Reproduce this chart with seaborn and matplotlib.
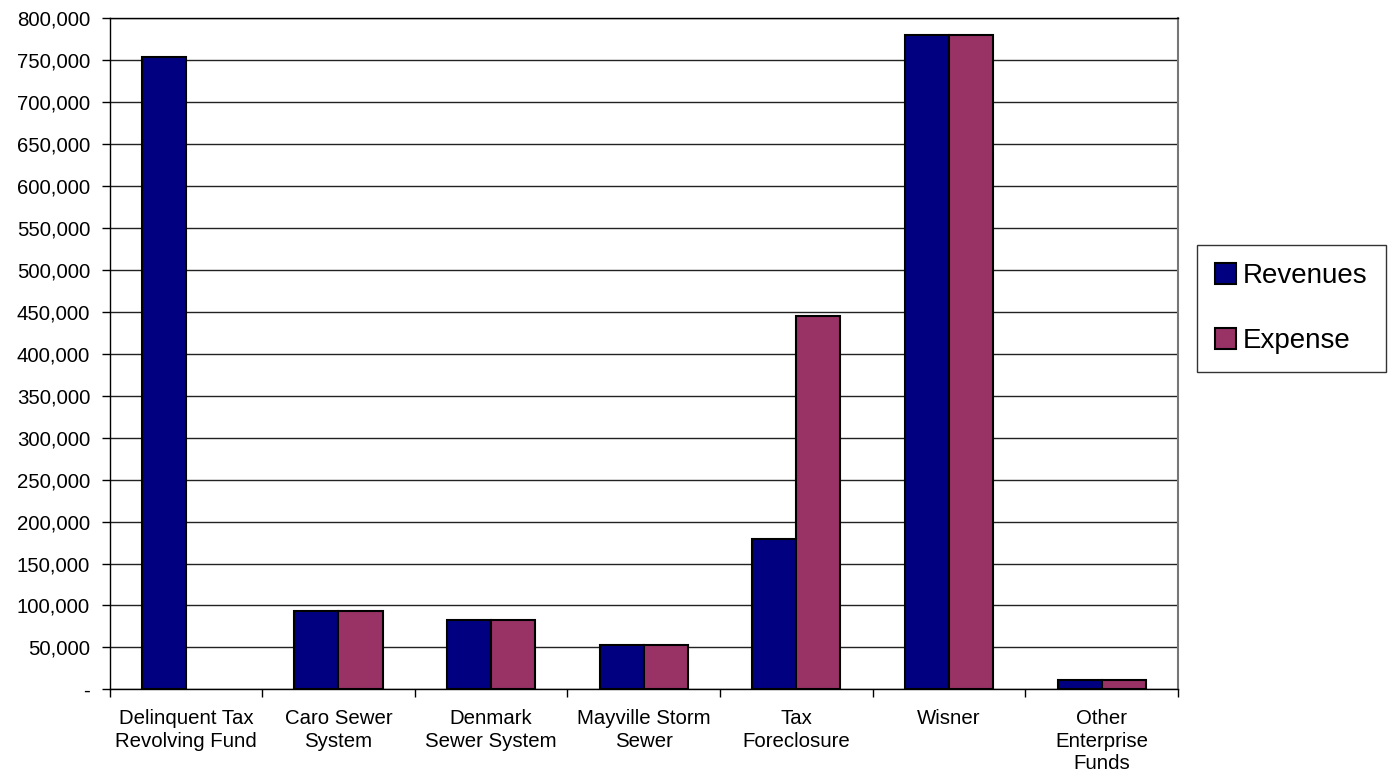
import matplotlib
matplotlib.use("Agg")
import matplotlib.pyplot as plt
from matplotlib.patches import Patch
from matplotlib.ticker import FuncFormatter, MultipleLocator, FixedLocator
import seaborn as sns
import pandas as pd

# Fund categories and reported amounts
funds = [
    "Delinquent Tax\nRevolving Fund",
    "Caro Sewer\nSystem",
    "Denmark\nSewer System",
    "Mayville Storm\nSewer",
    "Tax\nForeclosure",
    "Wisner",
    "Other\nEnterprise\nFunds",
]
revenues = [754000, 93500, 82500, 53000, 179500, 780000, 10800]
expense = [0, 93500, 82500, 53000, 445500, 780000, 10800]
series = ["Revenues", "Expense"]
colors = ["#000080", "#993366"]

df = pd.DataFrame({
    "Fund": funds * 2,
    "Amount": revenues + expense,
    "Series": [series[0]] * len(funds) + [series[1]] * len(funds),
})

sns.set_theme(style="white")
plt.rcParams["font.family"] = ["Liberation Sans", "DejaVu Sans"]
plt.rcParams["text.color"] = "black"

fig = plt.figure(figsize=(13.97, 7.76), dpi=100)
ax = fig.add_axes([0.0784, 0.1117, 0.7648, 0.8645])

sns.barplot(
    data=df, x="Fund", y="Amount", hue="Series", order=funds,
    hue_order=series, palette=colors, width=0.577, gap=0,
    edgecolor="black", linewidth=1.5, ax=ax, legend=False,
    saturation=1, errorbar=None,
)

# empty bars get no outline
for bar in ax.patches:
    if bar.get_height() == 0:
        bar.set_linewidth(0)

ax.set_xlim(-0.5, len(funds) - 0.5)
ax.set_ylim(0, 800000)
ax.yaxis.set_major_locator(MultipleLocator(50000))
ax.yaxis.set_major_formatter(
    FuncFormatter(lambda v, _: "-" if v == 0 else f"{int(v):,}")
)
ax.grid(axis="y", color="#222222", linewidth=1.0)
ax.set_axisbelow(True)

ax.set_xlabel("")
ax.set_ylabel("")

# category names centred, tick marks at group boundaries
ax.set_xticks(range(len(funds)))
ax.set_xticklabels(funds, fontsize=14.7, linespacing=1.25, color="black")
ax.tick_params(axis="x", which="major", length=0, pad=14)
ax.xaxis.set_minor_locator(FixedLocator([i - 0.5 for i in range(len(funds) + 1)]))
ax.tick_params(axis="x", which="minor", length=6, width=1, color="black",
               direction="out", bottom=True)
ax.tick_params(axis="y", which="major", length=6, width=1, color="black",
               direction="out", left=True, labelsize=14.7, labelcolor="black",
               pad=8)

for side in ["left", "bottom", "top"]:
    ax.spines[side].set_color("black")
    ax.spines[side].set_linewidth(1.0)
ax.spines["right"].set_color("#777777")
ax.spines["right"].set_linewidth(1.5)

handles = [Patch(facecolor=c, edgecolor="black", linewidth=1.5) for c in colors]
leg = fig.legend(
    handles, series, loc="upper left", bbox_to_anchor=(0.857, 0.684),
    fontsize=20, frameon=True, fancybox=False, edgecolor="black",
    handlelength=0.75, handleheight=0.75, handletextpad=0.25,
    labelspacing=1.4, borderpad=0.65, borderaxespad=0,
)
leg.get_frame().set_linewidth(1.0)
for t in leg.get_texts():
    t.set_color("black")

fig.savefig("out.png", dpi=100, facecolor="white")
